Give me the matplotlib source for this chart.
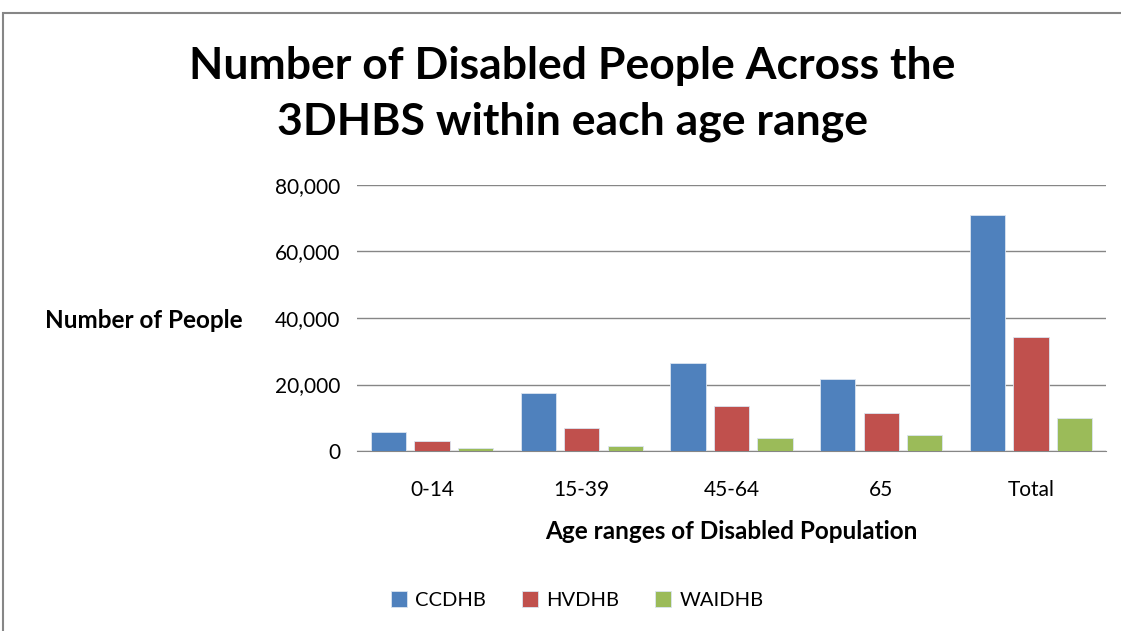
import matplotlib
matplotlib.use("Agg")
from matplotlib import pyplot as plt
from matplotlib.patches import Rectangle
import numpy as np

# data
age_ranges = ["0-14", "15-39", "45-64", "65", "Total"]
ccdhb = [5800, 17400, 26400, 21600, 71100]
hvdhb = [3100, 7000, 13600, 11400, 34200]
waidhb = [800, 1500, 3800, 4700, 9900]
series_names = ["CCDHB", "HVDHB", "WAIDHB"]
colors = ["#4F81BD", "#C0504D", "#9BBB59"]
yticks = [0, 20000, 40000, 60000, 80000]

plt.rcParams['font.family'] = ['Lato', 'DejaVu Sans']

fig = plt.figure(figsize=(11.21, 6.31), dpi=100)
ax = fig.add_axes([357 / 1121, 1 - 451 / 631, (1106 - 357) / 1121, (451 - 185) / 631])

# outer chart border
fig.patches.append(Rectangle((3 / 1121, -0.1), 1.2, 1.1 - 13 / 631, transform=fig.transFigure,
                             fill=False, edgecolor="#868686", linewidth=1.5))

x = np.arange(len(age_ranges))
w = 0.235
step = 0.29
for i, (vals, name, c) in enumerate(zip([ccdhb, hvdhb, waidhb], series_names, colors)):
    ax.bar(x + (i - 1) * step, vals, width=w, color=c, edgecolor="#dbe5f1", linewidth=0.6,
           label=name, zorder=3)

ax.set_xlim(-0.5, len(age_ranges) - 0.5)
ax.set_ylim(0, 80000)
ax.set_yticks(yticks)
ax.set_yticklabels([f"{v:,}" for v in yticks], fontsize=15)
ax.set_xticks(x)
ax.set_xticklabels(age_ranges, fontsize=15)
ax.tick_params(length=0, pad=12)
ax.tick_params(axis='x', pad=21)
ax.grid(axis='y', color="#868686", linewidth=1, zorder=0)
for s in ["top", "right", "left"]:
    ax.spines[s].set_visible(False)
ax.spines["bottom"].set_color("#868686")

ax.set_xlabel("Age ranges of Disabled Population", fontsize=17.5, fontweight='bold', labelpad=14)

fig.text(45 / 1121, 1 - 320 / 631, "Number of People", fontsize=17.5, fontweight='bold',
         ha='left', va='center')
fig.text(572 / 1121, 1 - 94 / 631, "Number of Disabled People Across the\n3DHBS within each age range",
         fontsize=32, fontweight='bold', ha='center', va='center', linespacing=1.5)

fig.legend(loc='center', bbox_to_anchor=(577 / 1121, 1 - 600 / 631), ncol=3, frameon=False,
           fontsize=14.5, handlelength=0.8, handleheight=0.8, handletextpad=0.4, columnspacing=1.8)

fig.savefig("out.png", dpi=100, facecolor="white")
